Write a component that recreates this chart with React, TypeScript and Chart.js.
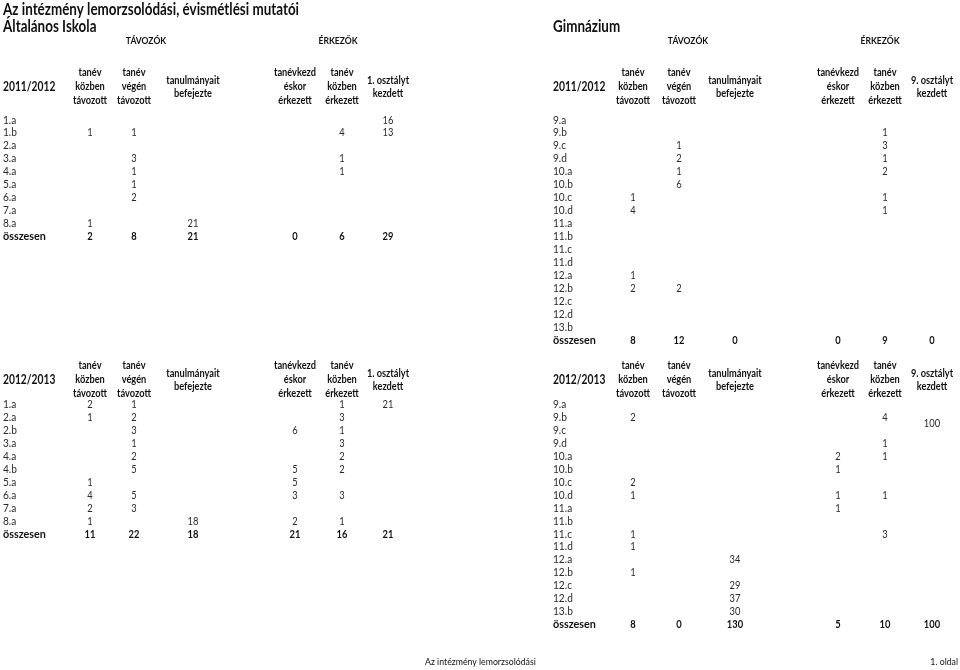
import { useEffect, useRef } from "react";
import { Chart, registerables } from "chart.js";

Chart.register(...registerables);

// ---------- text ----------
const pageTitle = "Az intézmény lemorzsolódási, évismétlési mutatói";
const schoolLeft = "Általános Iskola";
const schoolRight = "Gimnázium";
const groupLeaving = "TÁVOZÓK";
const groupArriving = "ÉRKEZŐK";
const headersElem = [
  ["tanév", "közben", "távozott"],
  ["tanév", "végén", "távozott"],
  ["tanulmányait", "befejezte"],
  ["tanévkezd", "éskor", "érkezett"],
  ["tanév", "közben", "érkezett"],
  ["1. osztályt", "kezdett"],
];
const headersGym = [
  ["tanév", "közben", "távozott"],
  ["tanév", "végén", "távozott"],
  ["tanulmányait", "befejezte"],
  ["tanévkezd", "éskor", "érkezett"],
  ["tanév", "közben", "érkezett"],
  ["9. osztályt", "kezdett"],
];
const years = ["2011/2012", "2012/2013"];
const totalLabel = "összesen";
const footerLeft = "Az intézmény lemorzsolódási";
const footerRight = "1. oldal";

// ---------- data: Általános Iskola ----------
const elemClasses2011 = ["1.a", "1.b", "2.a", "3.a", "4.a", "5.a", "6.a", "7.a", "8.a"];
const elem2011KozbenTav = [null, 1, null, null, null, null, null, null, 1];
const elem2011VegenTav = [null, 1, null, 3, 1, 1, 2, null, null];
const elem2011Befejezte = [null, null, null, null, null, null, null, null, 21];
const elem2011Tanevkezd = [null, null, null, null, null, null, null, null, null];
const elem2011KozbenErk = [null, 4, null, 1, 1, null, null, null, null];
const elem2011Kezdett = [16, 13, null, null, null, null, null, null, null];
const elem2011Totals = [2, 8, 21, 0, 6, 29];

const elemClasses2012 = ["1.a", "2.a", "2.b", "3.a", "4.a", "4.b", "5.a", "6.a", "7.a", "8.a"];
const elem2012KozbenTav = [2, 1, null, null, null, null, 1, 4, 2, 1];
const elem2012VegenTav = [1, 2, 3, 1, 2, 5, null, 5, 3, null];
const elem2012Befejezte = [null, null, null, null, null, null, null, null, null, 18];
const elem2012Tanevkezd = [null, null, 6, null, null, 5, 5, 3, null, 2];
const elem2012KozbenErk = [1, 3, 1, 3, 2, 2, null, 3, null, 1];
const elem2012Kezdett = [21, null, null, null, null, null, null, null, null, null];
const elem2012Totals = [11, 22, 18, 21, 16, 21];

// ---------- data: Gimnázium ----------
const gymClasses = ["9.a", "9.b", "9.c", "9.d", "10.a", "10.b", "10.c", "10.d", "11.a", "11.b", "11.c", "11.d", "12.a", "12.b", "12.c", "12.d", "13.b"];
const gym2011KozbenTav = [null, null, null, null, null, null, 1, 4, null, null, null, null, 1, 2, null, null, null];
const gym2011VegenTav = [null, null, 1, 2, 1, 6, null, null, null, null, null, null, null, 2, null, null, null];
const gym2011Befejezte = [null, null, null, null, null, null, null, null, null, null, null, null, null, null, null, null, null];
const gym2011Tanevkezd = [null, null, null, null, null, null, null, null, null, null, null, null, null, null, null, null, null];
const gym2011KozbenErk = [null, 1, 3, 1, 2, null, 1, 1, null, null, null, null, null, null, null, null, null];
const gym2011Kezdett = [null, null, null, null, null, null, null, null, null, null, null, null, null, null, null, null, null];
const gym2011Totals = [8, 12, 0, 0, 9, 0];

const gym2012KozbenTav = [null, 2, null, null, null, null, 2, 1, null, null, 1, 1, null, 1, null, null, null];
const gym2012VegenTav = [null, null, null, null, null, null, null, null, null, null, null, null, null, null, null, null, null];
const gym2012Befejezte = [null, null, null, null, null, null, null, null, null, null, null, null, 34, null, 29, 37, 30];
const gym2012Tanevkezd = [null, null, null, null, 2, 1, null, 1, 1, null, null, null, null, null, null, null, null];
const gym2012KozbenErk = [null, 4, null, 1, 1, null, null, 1, null, null, 3, null, null, null, null, null, null];
const gym2012Kezdett = [null, 100, null, null, null, null, null, null, null, null, null, null, null, null, null, null, null];
const gym2012Totals = [8, 0, 130, 5, 10, 100];
// the "100" cell is merged over rows 9.b and 9.c
const gym2012KezdettSpan = 2;

// ---------- layout ----------
const W = 960;
const H = 670;
const FONT = "Lato, 'Open Sans', sans-serif";
const ROW_H = 12.95;
const LEFT_COLS = [90, 134, 193, 295, 342, 388];
const RIGHT_COLS = [633, 679, 735, 838, 885, 932];
const LEFT_LABEL_X = 3;
const RIGHT_LABEL_X = 553;
const BLOCK1_HEADER_Y = 87;
const BLOCK1_ROW0 = 120;
const BLOCK2_HEADER_Y = 380;
const BLOCK2_ROW0 = 404.5;

type Txt = { x: number; y: number; text: string; font: string; align: CanvasTextAlign; color: string; sx: number };

const fRegular = `11px ${FONT}`;
const fBold = `bold 11px ${FONT}`;
const fHead = `bold 10.5px ${FONT}`;
const fYear = `bold 13px ${FONT}`;
const fTitle = `bold 17px ${FONT}`;
const fGroup = `bold 9.5px ${FONT}`;
const fFooter = `9.5px ${FONT}`;
const cReg = "#2a2a2a";
const cBold = "#111111";

function headerTexts(headers: string[][], cols: number[], yearX: number, year: string, hy: number): Txt[] {
  const out: Txt[] = [{ x: yearX, y: hy, text: year, font: fYear, align: "left", color: cBold, sx: 0.79 }];
  headers.forEach((lines, c) => {
    const offs = lines.length === 3 ? [-14, 0, 13.5] : [-6.5, 7];
    lines.forEach((t, k) =>
      out.push({ x: cols[c], y: hy + offs[k], text: t, font: fHead, align: "center", color: cBold, sx: 0.88 })
    );
  });
  return out;
}

function blockTexts(
  classes: string[],
  series: (number | null)[][],
  totals: number[],
  cols: number[],
  labelX: number,
  row0: number,
  spanCol = -1,
  span = 1
): Txt[] {
  const out: Txt[] = [];
  classes.forEach((c, i) =>
    out.push({ x: labelX, y: row0 + i * ROW_H, text: c, font: fRegular, align: "left", color: cReg, sx: 0.92 })
  );
  out.push({ x: labelX, y: row0 + classes.length * ROW_H, text: totalLabel, font: fBold, align: "left", color: cBold, sx: 0.98 });
  series.forEach((s, c) => {
    s.forEach((v, i) => {
      if (v === null) return;
      const extra = c === spanCol ? ((span - 1) * ROW_H) / 2 : 0;
      out.push({ x: cols[c], y: row0 + i * ROW_H + extra, text: String(v), font: fRegular, align: "center", color: cReg, sx: 0.85 });
    });
  });
  totals.forEach((v, c) =>
    out.push({ x: cols[c], y: row0 + classes.length * ROW_H, text: String(v), font: fBold, align: "center", color: cBold, sx: 0.85 })
  );
  return out;
}

function buildTexts(): Txt[] {
  const t: Txt[] = [];
  t.push({ x: 3, y: 10, text: pageTitle, font: fTitle, align: "left", color: cBold, sx: 0.79 });
  t.push({ x: 3, y: 27, text: schoolLeft, font: fTitle, align: "left", color: cBold, sx: 0.79 });
  t.push({ x: RIGHT_LABEL_X, y: 27, text: schoolRight, font: fTitle, align: "left", color: cBold, sx: 0.79 });
  t.push({ x: 146, y: 41, text: groupLeaving, font: fGroup, align: "center", color: cBold, sx: 0.9 });
  t.push({ x: 338, y: 41, text: groupArriving, font: fGroup, align: "center", color: cBold, sx: 0.9 });
  t.push({ x: 688, y: 41, text: groupLeaving, font: fGroup, align: "center", color: cBold, sx: 0.9 });
  t.push({ x: 880, y: 41, text: groupArriving, font: fGroup, align: "center", color: cBold, sx: 0.9 });
  t.push(...headerTexts(headersElem, LEFT_COLS, LEFT_LABEL_X, years[0], BLOCK1_HEADER_Y));
  t.push(...headerTexts(headersGym, RIGHT_COLS, RIGHT_LABEL_X, years[0], BLOCK1_HEADER_Y));
  t.push(...headerTexts(headersElem, LEFT_COLS, LEFT_LABEL_X, years[1], BLOCK2_HEADER_Y));
  t.push(...headerTexts(headersGym, RIGHT_COLS, RIGHT_LABEL_X, years[1], BLOCK2_HEADER_Y));
  t.push(
    ...blockTexts(
      elemClasses2011,
      [elem2011KozbenTav, elem2011VegenTav, elem2011Befejezte, elem2011Tanevkezd, elem2011KozbenErk, elem2011Kezdett],
      elem2011Totals,
      LEFT_COLS,
      LEFT_LABEL_X,
      BLOCK1_ROW0
    )
  );
  t.push(
    ...blockTexts(
      gymClasses,
      [gym2011KozbenTav, gym2011VegenTav, gym2011Befejezte, gym2011Tanevkezd, gym2011KozbenErk, gym2011Kezdett],
      gym2011Totals,
      RIGHT_COLS,
      RIGHT_LABEL_X,
      BLOCK1_ROW0
    )
  );
  t.push(
    ...blockTexts(
      elemClasses2012,
      [elem2012KozbenTav, elem2012VegenTav, elem2012Befejezte, elem2012Tanevkezd, elem2012KozbenErk, elem2012Kezdett],
      elem2012Totals,
      LEFT_COLS,
      LEFT_LABEL_X,
      BLOCK2_ROW0
    )
  );
  t.push(
    ...blockTexts(
      gymClasses,
      [gym2012KozbenTav, gym2012VegenTav, gym2012Befejezte, gym2012Tanevkezd, gym2012KozbenErk, gym2012Kezdett],
      gym2012Totals,
      RIGHT_COLS,
      RIGHT_LABEL_X,
      BLOCK2_ROW0,
      5,
      gym2012KezdettSpan
    )
  );
  t.push({ x: 425, y: 662, text: footerLeft, font: fFooter, align: "left", color: cBold, sx: 0.92 });
  t.push({ x: 958, y: 662, text: footerRight, font: fFooter, align: "right", color: cBold, sx: 0.92 });
  return t;
}

const textPlugin = {
  id: "cellText",
  afterDatasetsDraw(chart: any) {
    const ctx: CanvasRenderingContext2D = chart.ctx;
    const ds = chart.data.datasets[0];
    const meta = chart.getDatasetMeta(0);
    ctx.save();
    ctx.textBaseline = "middle";
    ds.data.forEach((d: any, i: number) => {
      const el = meta.data[i];
      if (!el) return;
      ctx.save();
      ctx.font = d.font;
      ctx.fillStyle = d.color;
      ctx.textAlign = d.align;
      ctx.translate(el.x, el.y);
      ctx.scale(d.sx, 1);
      ctx.fillText(d.text, 0, 0);
      ctx.restore();
    });
    ctx.restore();
  },
};

export default function App() {
  const ref = useRef<HTMLCanvasElement | null>(null);
  useEffect(() => {
    if (!ref.current) return;
    const texts = buildTexts();
    const chart = new Chart(ref.current, {
      type: "scatter",
      data: {
        datasets: [
          {
            label: "cells",
            data: texts as any,
            pointRadius: 0,
            pointHoverRadius: 0,
            showLine: false,
          },
        ],
      },
      options: {
        responsive: false,
        animation: false,
        devicePixelRatio: 1,
        layout: { padding: 0 },
        plugins: { legend: { display: false }, tooltip: { enabled: false }, title: { display: false } },
        scales: {
          x: { type: "linear", min: 0, max: W, display: false },
          y: { type: "linear", min: 0, max: H, reverse: true, display: false },
        },
        events: [],
      },
      plugins: [textPlugin],
    });
    return () => chart.destroy();
  }, []);
  return (
    <div style={{ position: "fixed", left: 0, top: 0, width: W, height: H, background: "#fff" }}>
      <canvas ref={ref} width={W} height={H} />
    </div>
  );
}
